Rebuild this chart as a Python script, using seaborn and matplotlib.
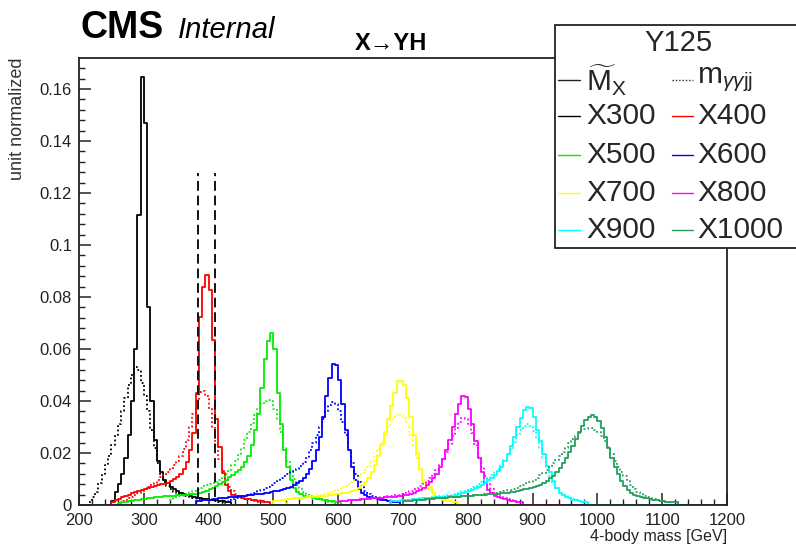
import numpy as np
import pandas as pd
import matplotlib
matplotlib.use("Agg")
import matplotlib.pyplot as plt
from matplotlib.lines import Line2D
from matplotlib.patches import Rectangle
import seaborn as sns

# ---------------------------------------------------------------------------
# Binning: 5 GeV bins over the 4-body mass range
# ---------------------------------------------------------------------------
BIN_WIDTH = 5
X_LO, X_HI = 200, 1200

mass_points = ["X300", "X400", "X500", "X600", "X700", "X800", "X900", "X1000"]
mass_colors = ["#000000", "#ff0000", "#00ee00", "#0000ff",
               "#ffff00", "#ff00ff", "#00ffff", "#23a05a"]

# Signal window around X400 (GeV)
window_edges = [384, 410]
window_height = [0.003, 0.1275]

# Unit-normalised bin contents; each list starts at the given low bin edge.
# Reconstructed mass (M~X)
mx_x300_start = 250
mx_x300 = [0.0015, 0.005, 0.008, 0.012, 0.018, 0.027, 0.040, 0.060, 0.1115, 0.1647,
           0.147, 0.076, 0.040, 0.025, 0.017, 0.0125, 0.0098, 0.0083, 0.0071, 0.006,
           0.0052, 0.0046, 0.0041, 0.0037, 0.0033, 0.003, 0.0028, 0.0026, 0.0024, 0.0022,
           0.002, 0.0019, 0.0018, 0.0017, 0.0015, 0.0012, 0.001]

mx_x400_start = 250
mx_x400 = [0.001, 0.0018, 0.0024, 0.003, 0.0035, 0.004, 0.0045, 0.005, 0.0054, 0.0058,
           0.0062, 0.0066, 0.007, 0.0073, 0.0076, 0.0079, 0.0082, 0.0086, 0.0092, 0.0099,
           0.0108, 0.012, 0.0138, 0.0165, 0.021, 0.0276, 0.043, 0.0724, 0.084, 0.0885,
           0.0827, 0.0635, 0.033, 0.0224, 0.0122, 0.0075, 0.0052, 0.004, 0.0034, 0.003,
           0.0027, 0.0024, 0.0022, 0.002, 0.0018, 0.0016, 0.0014, 0.0012, 0.001]

mx_x500_start = 260
mx_x500 = [0.0008, 0.001, 0.0012, 0.0014, 0.0016, 0.0018, 0.002, 0.0022, 0.0024, 0.0026,
           0.0028, 0.003, 0.0031, 0.0032, 0.0033, 0.0034, 0.0035, 0.0036, 0.0037, 0.0038,
           0.0039, 0.004, 0.0041, 0.0042, 0.0044, 0.0047, 0.005, 0.0055, 0.006, 0.0066,
           0.0074, 0.0082, 0.009, 0.0098, 0.0106, 0.0115, 0.0125, 0.0135, 0.0148, 0.0165,
           0.019, 0.023, 0.029, 0.035, 0.045, 0.056, 0.063, 0.066, 0.060, 0.043,
           0.031, 0.021, 0.0145, 0.0095, 0.0065, 0.005, 0.0042, 0.0036, 0.0032, 0.003,
           0.0027, 0.0024, 0.0022, 0.002, 0.0018, 0.0016, 0.0014, 0.0012, 0.001]

mx_x600_start = 380
mx_x600 = [0.0015, 0.0017, 0.0019, 0.002, 0.0021, 0.0022, 0.0023, 0.0025, 0.0026, 0.0027,
           0.0029, 0.003, 0.0031, 0.0033, 0.0035, 0.0036, 0.0038, 0.004, 0.0041, 0.0043,
           0.0044, 0.0045, 0.0047, 0.005, 0.0052, 0.0055, 0.0058, 0.006, 0.0065, 0.007,
           0.0077, 0.0083, 0.0092, 0.0105, 0.012, 0.014, 0.017, 0.021, 0.026, 0.034,
           0.042, 0.049, 0.0542, 0.054, 0.048, 0.039, 0.029, 0.021, 0.0145, 0.0095,
           0.0062, 0.0045, 0.0037, 0.0032, 0.0028, 0.0025, 0.0022, 0.002, 0.0018, 0.0016,
           0.0014, 0.0012, 0.001]

mx_x700_start = 500
mx_x700 = [0.0015, 0.0017, 0.0019, 0.002, 0.0022, 0.0023, 0.0025, 0.0026, 0.0027, 0.0028,
           0.0029, 0.003, 0.0031, 0.0032, 0.0033, 0.0034, 0.0035, 0.0037, 0.0039, 0.0041,
           0.0043, 0.0045, 0.0047, 0.005, 0.0053, 0.0058, 0.0065, 0.0075, 0.0088, 0.0105,
           0.0128, 0.0155, 0.019, 0.023, 0.028, 0.033, 0.038, 0.043, 0.0475, 0.0478,
           0.046, 0.041, 0.034, 0.027, 0.020, 0.014, 0.009, 0.0062, 0.007, 0.0045,
           0.0032, 0.0025, 0.002, 0.0017, 0.0014, 0.0012, 0.001]

mx_x800_start = 600
mx_x800 = [0.0015, 0.0016, 0.0017, 0.0018, 0.0019, 0.002, 0.0021, 0.0022, 0.0023, 0.0024,
           0.0025, 0.0026, 0.0027, 0.0028, 0.0029, 0.003, 0.0031, 0.0032, 0.0034, 0.0036,
           0.0038, 0.004, 0.0043, 0.0047, 0.0052, 0.0058, 0.0066, 0.0076, 0.0088, 0.0102,
           0.012, 0.0145, 0.0175, 0.021, 0.025, 0.030, 0.035, 0.039, 0.0418, 0.0415,
           0.037, 0.031, 0.0245, 0.018, 0.0125, 0.0085, 0.0058, 0.0045, 0.0036, 0.003,
           0.0026, 0.0022, 0.0019, 0.0016, 0.0014, 0.0012, 0.001]

mx_x900_start = 680
mx_x900 = [0.0015, 0.0016, 0.0017, 0.0018, 0.0019, 0.002, 0.0021, 0.0022, 0.0023, 0.0024,
           0.0025, 0.0026, 0.0027, 0.0028, 0.0029, 0.003, 0.0031, 0.0032, 0.0033, 0.0035,
           0.0038, 0.0041, 0.0045, 0.0049, 0.0054, 0.0059, 0.0065, 0.0071, 0.0078, 0.0086,
           0.0095, 0.0105, 0.0117, 0.013, 0.0148, 0.017, 0.0195, 0.0225, 0.026, 0.030,
           0.0335, 0.0365, 0.0378, 0.0372, 0.034, 0.029, 0.0245, 0.0195, 0.015, 0.0125,
           0.0092, 0.0065, 0.0048, 0.0037, 0.003, 0.0025, 0.0021, 0.0018, 0.0015, 0.0012,
           0.001]

mx_x1000_start = 700
mx_x1000 = [0.0015, 0.0016, 0.0017, 0.0018, 0.0019, 0.002, 0.0021, 0.0022, 0.0023, 0.0024,
            0.0025, 0.0026, 0.0027, 0.0028, 0.0029, 0.003, 0.0031, 0.0032, 0.0033, 0.0034,
            0.0035, 0.0036, 0.0037, 0.0038, 0.0039, 0.004, 0.0041, 0.0042, 0.0043, 0.0044,
            0.0045, 0.0046, 0.0047, 0.0049, 0.0051, 0.0054, 0.0057, 0.006, 0.0063, 0.0065,
            0.0068, 0.0072, 0.0078, 0.0085, 0.0093, 0.0102, 0.0113, 0.0126, 0.0142, 0.016,
            0.018, 0.0202, 0.0225, 0.0252, 0.028, 0.0305, 0.0325, 0.0338, 0.0345, 0.034,
            0.0322, 0.0295, 0.026, 0.022, 0.0182, 0.0148, 0.0118, 0.0092, 0.0072, 0.0057,
            0.0047, 0.004, 0.0035, 0.0031, 0.0028, 0.0025, 0.0022, 0.002, 0.0018, 0.0016,
            0.0014, 0.0013, 0.0012, 0.0011, 0.001]

# Diphoton + dijet invariant mass (m_yyjj)
mgg_x300_start = 215
mgg_x300 = [0.001, 0.003, 0.005, 0.0085, 0.012, 0.0155, 0.019, 0.023, 0.027, 0.031,
            0.036, 0.041, 0.046, 0.050, 0.053, 0.052, 0.047, 0.042, 0.036, 0.029,
            0.022, 0.016, 0.012, 0.009, 0.0072, 0.006, 0.005, 0.0044, 0.004, 0.0036,
            0.0033, 0.003, 0.0028, 0.0026, 0.0024, 0.0022, 0.002, 0.0018, 0.0016, 0.0014,
            0.0012, 0.001]

mgg_x400_start = 265
mgg_x400 = [0.0015, 0.002, 0.0025, 0.003, 0.0037, 0.0045, 0.0052, 0.006, 0.0068, 0.0077,
            0.0086, 0.0096, 0.0106, 0.0117, 0.0128, 0.014, 0.0152, 0.017, 0.019, 0.0215,
            0.025, 0.030, 0.035, 0.040, 0.0435, 0.0437, 0.042, 0.037, 0.030, 0.023,
            0.0175, 0.013, 0.0095, 0.007, 0.0053, 0.0042, 0.0035, 0.003, 0.0026, 0.0022,
            0.0019, 0.0016, 0.0013, 0.001]

mgg_x500_start = 340
mgg_x500 = [0.002, 0.0025, 0.003, 0.0035, 0.004, 0.0045, 0.005, 0.0055, 0.006, 0.0066,
            0.0072, 0.0076, 0.008, 0.0085, 0.009, 0.0097, 0.0105, 0.0118, 0.0135, 0.0152,
            0.017, 0.0195, 0.022, 0.025, 0.028, 0.0315, 0.0345, 0.037, 0.039, 0.040,
            0.0405, 0.040, 0.037, 0.033, 0.028, 0.022, 0.017, 0.013, 0.010, 0.0075,
            0.006, 0.005, 0.0042, 0.0036, 0.003, 0.0026, 0.0022, 0.0018, 0.0015, 0.0012,
            0.001]

mgg_x600_start = 430
mgg_x600 = [0.002, 0.0022, 0.0025, 0.0028, 0.0031, 0.0035, 0.0039, 0.0043, 0.0048, 0.0053,
            0.0058, 0.0064, 0.007, 0.0077, 0.0085, 0.0093, 0.0102, 0.011, 0.0118, 0.0125,
            0.0132, 0.014, 0.015, 0.0165, 0.0185, 0.021, 0.024, 0.027, 0.030, 0.033,
            0.036, 0.0385, 0.0395, 0.039, 0.036, 0.032, 0.027, 0.021, 0.016, 0.012,
            0.009, 0.0068, 0.0052, 0.0042, 0.0035, 0.003, 0.0026, 0.0022, 0.0019, 0.0016,
            0.0013, 0.001]

mgg_x700_start = 520
mgg_x700 = [0.002, 0.0022, 0.0024, 0.0026, 0.0028, 0.003, 0.0032, 0.0034, 0.0036, 0.0038,
            0.004, 0.0043, 0.0046, 0.005, 0.0054, 0.0058, 0.0063, 0.0068, 0.0074, 0.008,
            0.0088, 0.0097, 0.0108, 0.012, 0.0135, 0.015, 0.017, 0.019, 0.0215, 0.024,
            0.027, 0.030, 0.0325, 0.034, 0.035, 0.0348, 0.0335, 0.031, 0.027, 0.023,
            0.018, 0.0135, 0.0095, 0.0068, 0.0052, 0.0042, 0.0035, 0.0029, 0.0024, 0.002,
            0.0016, 0.0013, 0.001]

mgg_x800_start = 620
mgg_x800 = [0.002, 0.0021, 0.0022, 0.0023, 0.0024, 0.0025, 0.0026, 0.0027, 0.0028, 0.003,
            0.0032, 0.0034, 0.0036, 0.0038, 0.004, 0.0043, 0.0046, 0.005, 0.0055, 0.006,
            0.0066, 0.0073, 0.0082, 0.0092, 0.0104, 0.0118, 0.0135, 0.0155, 0.0178, 0.0205,
            0.0235, 0.0265, 0.0295, 0.032, 0.0333, 0.033, 0.031, 0.0275, 0.023, 0.0185,
            0.0145, 0.011, 0.0082, 0.0062, 0.0048, 0.0038, 0.0031, 0.0026, 0.0022, 0.0018,
            0.0015, 0.0012, 0.001]

mgg_x900_start = 700
mgg_x900 = [0.002, 0.0021, 0.0022, 0.0023, 0.0024, 0.0025, 0.0026, 0.0027, 0.0028, 0.003,
            0.0032, 0.0034, 0.0036, 0.0038, 0.004, 0.0043, 0.0046, 0.005, 0.0054, 0.0058,
            0.0063, 0.0068, 0.0074, 0.008, 0.0087, 0.0095, 0.0104, 0.0114, 0.0126, 0.014,
            0.0156, 0.0174, 0.0195, 0.0218, 0.0243, 0.0268, 0.029, 0.0305, 0.031, 0.0305,
            0.0285, 0.0255, 0.022, 0.018, 0.0145, 0.0112, 0.0085, 0.0065, 0.005, 0.004,
            0.0033, 0.0028, 0.0024, 0.002, 0.0017, 0.0014, 0.0011]

mgg_x1000_start = 720
mgg_x1000 = [0.002, 0.0021, 0.0022, 0.0023, 0.0024, 0.0025, 0.0026, 0.0027, 0.0028, 0.0029,
             0.003, 0.0031, 0.0032, 0.0033, 0.0034, 0.0035, 0.0036, 0.0037, 0.0038, 0.0039,
             0.004, 0.0041, 0.0042, 0.0044, 0.0046, 0.0048, 0.005, 0.0053, 0.0056, 0.0059,
             0.0063, 0.0067, 0.0072, 0.0077, 0.0083, 0.009, 0.0097, 0.0105, 0.0114, 0.0124,
             0.0135, 0.0147, 0.016, 0.0174, 0.0189, 0.0205, 0.0221, 0.0237, 0.0252, 0.0266,
             0.0278, 0.0287, 0.0293, 0.0296, 0.0295, 0.029, 0.028, 0.0265, 0.0245, 0.0222,
             0.0196, 0.017, 0.0148, 0.0128, 0.0112, 0.0096, 0.0078, 0.0062, 0.005, 0.0041,
             0.0034, 0.0029, 0.0025, 0.0022, 0.0019, 0.0017, 0.0015, 0.0013, 0.0012, 0.0011,
             0.001]

mx_hists = [(mx_x300_start, mx_x300), (mx_x400_start, mx_x400), (mx_x500_start, mx_x500),
            (mx_x600_start, mx_x600), (mx_x700_start, mx_x700), (mx_x800_start, mx_x800),
            (mx_x900_start, mx_x900), (mx_x1000_start, mx_x1000)]
mgg_hists = [(mgg_x300_start, mgg_x300), (mgg_x400_start, mgg_x400), (mgg_x500_start, mgg_x500),
             (mgg_x600_start, mgg_x600), (mgg_x700_start, mgg_x700), (mgg_x800_start, mgg_x800),
             (mgg_x900_start, mgg_x900), (mgg_x1000_start, mgg_x1000)]

edges = [float(e) for e in np.arange(X_LO, X_HI + BIN_WIDTH, BIN_WIDTH)]
centers = [0.5 * (a + b) for a, b in zip(edges[:-1], edges[1:])]


def hist_frame(start, contents):
    """Place a list of bin contents into the full 200-1200 GeV binning."""
    h = np.zeros(len(centers))
    i0 = (start - X_LO) // BIN_WIDTH
    h[i0:i0 + len(contents)] = contents
    return pd.DataFrame({"mass": centers, "content": h})


# ---------------------------------------------------------------------------
# Style
# ---------------------------------------------------------------------------
sns.set_theme(style="white")
plt.rcParams["font.family"] = ["Liberation Sans", "DejaVu Sans"]
plt.rcParams["mathtext.fontset"] = "custom"
plt.rcParams["mathtext.rm"] = "Liberation Sans"
plt.rcParams["mathtext.it"] = "Liberation Sans:italic"
plt.rcParams["mathtext.bf"] = "Liberation Sans:bold"

W, H = 796, 548
fig = plt.figure(figsize=(W / 100, H / 100), dpi=100)
ax = fig.add_axes([79 / W, 1 - 505 / H, (727 - 79) / W, (505 - 58) / H])


def fx(px):
    return px / W


def fy(py):
    return 1 - py / H


LW = 1.3
DOTS = (0, (1, 1.4))
for color, (s1, v1), (s2, v2) in zip(mass_colors, mx_hists, mgg_hists):
    sns.histplot(data=hist_frame(s1, v1), x="mass", weights="content", bins=edges,
                 element="step", fill=False, color=color, linewidth=LW, ax=ax)
    sns.histplot(data=hist_frame(s2, v2), x="mass", weights="content", bins=edges,
                 element="step", fill=False, color=color, linewidth=LW, linestyle=DOTS,
                 ax=ax)

ax.vlines(window_edges, window_height[0], window_height[1], colors="#111111",
          linestyles=(0, (5.0, 2.5)), linewidth=1.4, zorder=5)

# Axes
ax.set_xlim(X_LO, X_HI)
ax.set_ylim(0, 0.1719)
xticks = list(range(200, 1201, 100))
ax.set_xticks(xticks)
ax.set_xticklabels([str(t) for t in xticks])
yticks = [0, 0.02, 0.04, 0.06, 0.08, 0.1, 0.12, 0.14, 0.16]
ytick_labels = ["0", "0.02", "0.04", "0.06", "0.08", "0.1", "0.12", "0.14", "0.16"]
ax.set_yticks(yticks)
ax.set_yticklabels(ytick_labels)
ax.set_xticks(np.arange(200, 1201, 20), minor=True)
ax.set_yticks(np.arange(0, 0.172, 0.004), minor=True)
ax.tick_params(axis="both", which="both", bottom=True, left=True, top=False, right=False,
               direction="in")
ax.tick_params(axis="both", which="major", length=8.5, width=1.1,
               labelsize=12, labelcolor="#222222", color="#222222", pad=5)
ax.tick_params(axis="both", which="minor", length=4.3, width=1.0, color="#222222")
ax.tick_params(axis="x", which="major", pad=6)
for sp in ax.spines.values():
    sp.set_linewidth(1.3)
    sp.set_color("#222222")
ax.set_xlabel("")
ax.set_ylabel("")

# Axis titles
fig.text(fx(727), fy(537), "4-body mass [GeV]", ha="right", va="center",
         fontsize=11.5, color="#222222")
fig.text(fx(18), fy(57), "unit normalized", ha="center", va="top", rotation=90,
         fontsize=13, color="#333333")

# Header
fig.text(fx(80), fy(38), "CMS", ha="left", va="baseline", fontsize=27,
         fontweight="bold", color="black")
fig.text(fx(178), fy(38), "Internal", ha="left", va="baseline", fontsize=21,
         fontstyle="italic", color="black")
fig.text(fx(391), fy(50), "X\u2192YH", ha="center", va="baseline", fontsize=17,
         fontweight="bold", color="black")

# Legend box (overlapping the top-right of the frame)
fig.add_artist(Rectangle((fx(555), fy(248)), (801 - 555) / W, (248 - 25) / H,
                         transform=fig.transFigure, facecolor="white",
                         edgecolor="#222222", linewidth=1.3, zorder=10))
fig.text(fx(678), fy(43), "Y125", ha="center", va="center", fontsize=21, zorder=11)

legend_rows = [80, 116, 155, 193, 230]
col_handle = [(558, 580), (672, 693)]
col_text = [586, 697]
legend_entries = [
    (r"$\widetilde{\mathrm{M}}_{\mathrm{X}}$", "#222222", "-"),
    (r"m$_{\gamma\gamma\mathrm{jj}}$", "#222222", DOTS),
]
for lab, col in zip(mass_points, mass_colors):
    legend_entries.append((lab, col, "-"))

for k, (lab, col, ls) in enumerate(legend_entries):
    r, c = divmod(k, 2)
    py = legend_rows[r]
    x0, x1 = col_handle[c]
    fig.add_artist(Line2D([fx(x0), fx(x1)], [fy(py), fy(py)], transform=fig.transFigure,
                          color=col, linewidth=1.0, linestyle=ls, zorder=11))
    fig.text(fx(col_text[c]), fy(py), lab, ha="left", va="center", fontsize=21.5,
             zorder=11)

fig.savefig("out.png", dpi=100)
